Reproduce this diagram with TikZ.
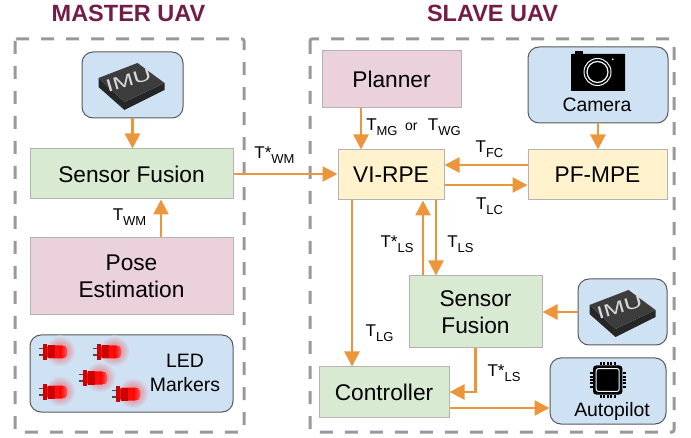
\documentclass[tikz,border=0pt]{standalone}
\usepackage{fontspec}
\setmainfont{Liberation Sans}
\usetikzlibrary{arrows.meta}
\definecolor{qgreen}{HTML}{D9EAD3}
\definecolor{qpink}{HTML}{EAD1DC}
\definecolor{qblue}{HTML}{CFE2F3}
\definecolor{qyellow}{HTML}{FFF2CC}
\definecolor{qorange}{HTML}{EB963A}
\definecolor{qtitle}{HTML}{741B47}
\definecolor{qdash}{HTML}{999999}
\definecolor{qedge}{HTML}{B3B3B3}
\newcommand{\tsub}[2]{T#1\raisebox{-5pt}{\fontsize{13}{13}\selectfont #2}}
\tikzset{
  frame/.style={draw=qdash, line width=3pt, dash pattern=on 13pt off 12pt, rounded corners=2pt},
  titlelbl/.style={text=qtitle, font=\fontsize{23.5}{26}\selectfont\bfseries},
  block/.style={draw=qedge, line width=1pt, font=\fontsize{22.7}{26.7}\selectfont, align=center, inner sep=0pt},
  device/.style={draw=black!65, line width=1pt, fill=qblue, rounded corners=11pt, inner sep=0pt},
  devlbl/.style={font=\fontsize{19.4}{23.3}\selectfont, align=center, inner sep=0pt},
  tlbl/.style={font=\fontsize{17}{17}\selectfont, inner sep=0pt},
  flow/.style={draw=qorange, line width=2.5pt, -{Triangle[length=15pt,width=15pt]}},
  imuchip/.pic={
    \fill[black!85] (-33,-7) -- (-33,2) -- (-7,25) -- (33,5) -- (33,-2) -- (-7,17) -- cycle;
    \fill[black!76] (-33,-7) -- (6,-22) -- (33,-2) -- (-7,17) -- cycle;
    \node[text=white!85!black, inner sep=0pt, rotate=16, xscale=1.45, font=\fontsize{17.5}{18}\selectfont] (txt) at (-3,-5) {IMU};
  },
  ledlamp/.pic={
    \shade[inner color=red!55!qblue, outer color=qblue] (3,-1) circle (15.5);
    \draw[black!70, line width=1.2pt] (-18,-3.5) -- (-13,-3.5) (-18,3) -- (-13,3);
    \fill[red!95!white, rounded corners=5pt] (-12,-6.5) -- (10,-6.5) -- (10,6.5) -- (-12,6.5) -- cycle;
    \fill[red!80!black] (-9,-6.5) rectangle (-2,6.5);
    \shade[left color=red, right color=red!65!white] (3,-5.5) -- (8.5,-5.5) arc (-90:90:1.5 and 5.5) -- (3,5.5) -- cycle;
    \fill[red!82!black] (-14,-8) rectangle (-10,8);
  },
}

\begin{document}
\begin{tikzpicture}[x=1pt,y=-1pt]
\useasboundingbox (0,0) rectangle (691,438);

% frames and titles
\draw[frame] (15,39) rectangle (244,432);
\draw[frame] (310,39) rectangle (674,432);
\node[titlelbl] (mastertitle) at (128.5,13) {MASTER UAV};
\node[titlelbl] (slavetitle) at (492.5,13) {SLAVE UAV};

% master side
\node[device, minimum width=101pt, minimum height=66pt] (imum) at (132.5,85) {};
\pic (imumchip) at (131.5,85) {imuchip};
\node[block, fill=qgreen, minimum width=203pt, minimum height=50pt] (sfm) at (131.5,174) {Sensor Fusion};
\node[block, fill=qpink, minimum width=203pt, minimum height=77pt] (pose) at (131.5,276.5) {Pose\\Estimation};
\node[device, minimum width=203pt, minimum height=77pt] (led) at (131.5,373.5) {};
\foreach \ledid/\ledx/\ledy in {1/57/352,2/111/352,3/97/378,4/57/392,5/130/394}
  \pic (lamp\ledid) at (\ledx,\ledy) {ledlamp};
\node[devlbl] (ledlbl) at (185,373) {LED\\Markers};

% slave side
\node[block, fill=qpink, minimum width=139pt, minimum height=57pt] (planner) at (391.5,79.5) {Planner};
\node[device, minimum width=140pt, minimum height=76pt] (cam) at (598,85) {};
\fill[black, rounded corners=0.5pt] (571,54) rectangle (625,91);
\fill[black] (575,51) rectangle (583,55);
\draw[white!80!qblue, line width=1pt] (597.5,72) circle (13.5);
\draw[white!80!qblue, line width=1.2pt] (597.5,72) circle (10.5);
\fill[white!80!qblue] (612.7,59.3) circle (1);
\node[devlbl] (camlbl) at (597,105) {Camera};
\node[block, fill=qyellow, minimum width=106pt, minimum height=50pt] (vi) at (391,175) {VI-RPE};
\node[block, fill=qyellow, minimum width=139pt, minimum height=50pt] (pf) at (597.5,175) {PF-MPE};
\node[block, fill=qgreen, minimum width=133pt, minimum height=72pt] (sfs) at (475.5,312) {Sensor\\Fusion};
\node[device, minimum width=89pt, minimum height=66pt] (imus) at (622.5,312) {};
\pic (imuschip) at (622.5,312) {imuchip};
\node[block, fill=qgreen, minimum width=130pt, minimum height=50pt] (ctrl) at (384,392) {Controller};
\node[device, minimum width=116pt, minimum height=66pt] (auto) at (608,391) {};
\foreach \pinp in {-6.8,-3.4,0,3.4,6.8} {
  \fill[black] (607.7+\pinp-1,362.5) rectangle (607.7+\pinp+1,365.5);
  \fill[black] (607.7+\pinp-1,394.5) rectangle (607.7+\pinp+1,397.5);
  \fill[black] (589.5,380+\pinp-1) rectangle (592.5,380+\pinp+1);
  \fill[black] (622.9,380+\pinp-1) rectangle (625.9,380+\pinp+1);
}
\fill[black, rounded corners=3pt] (593,365.5) rectangle (622.4,394.5);
\draw[white!80!qblue, line width=1pt, rounded corners=2pt] (596.2,368.7) rectangle (619.2,391.3);
\node[devlbl] (autolbl) at (612,411) {Autopilot};

% connectors
\draw[flow] (imum.south) -- (imum.south |- sfm.north);
\draw[flow] ([xshift=29.5pt]pose.north) -- ([xshift=29.5pt]sfm.south);
\draw[flow] (sfm.east) -- (sfm.east -| vi.west);
\draw[flow] ([xshift=-30.5pt]planner.south) -- ([xshift=-30pt]vi.north);
\draw[flow] (cam.south) -- (cam.south |- pf.north);
\draw[flow] ([yshift=10pt]pf.west) -- ([yshift=10pt]vi.east);
\draw[flow] ([yshift=-10pt]vi.east) -- ([yshift=-10pt]pf.west);
\draw[flow] ([xshift=-39pt]vi.south) -- ([xshift=-32pt]ctrl.north);
\draw[flow] ([xshift=-52.5pt]sfs.north) -- ([xshift=32pt]vi.south);
\draw[flow] ([xshift=45pt]vi.south) -- ([xshift=-39.5pt]sfs.north);
\draw[flow] (imus.west) -- (sfs.east);
\draw[flow] (sfs.south) |- (ctrl.east);
\draw[flow] ([yshift=-16pt]ctrl.east) -- ([yshift=-17pt]auto.west);

% labels
\node[tlbl] (twm) at (129.5,217) {\tsub{}{WM}};
\node[tlbl] (tswm) at (274.5,155) {\tsub{*}{WM}};
\node[tlbl] (tmg) at (413.5,127) {\tsub{}{MG}\, {\fontsize{14}{14}\selectfont or}\,\, \tsub{}{WG}};
\node[tlbl] (tfc) at (489.5,149) {\tsub{}{FC}};
\node[tlbl] (tlc) at (489.5,206) {\tsub{}{LC}};
\node[tlbl] (tslsa) at (397,244) {\tsub{*}{LS}};
\node[tlbl] (tls) at (460.5,244) {\tsub{}{LS}};
\node[tlbl] (tlg) at (379.5,333) {\tsub{}{LG}};
\node[tlbl] (tslsb) at (504,373) {\tsub{*}{LS}};
\end{tikzpicture}
\end{document}
